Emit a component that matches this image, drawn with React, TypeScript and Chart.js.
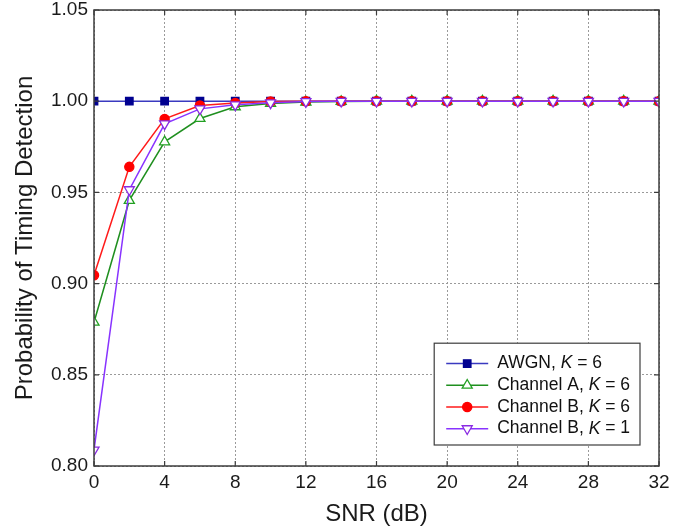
import React, { useEffect, useRef } from 'react';
import { Chart, registerables } from 'chart.js';

Chart.register(...registerables);

// ---- data ----
const snrDb = [0, 2, 4, 6, 8, 10, 12, 14, 16, 18, 20, 22, 24, 26, 28, 30, 32];
const awgnK6 = [1, 1, 1, 1, 1, 1, 1, 1, 1, 1, 1, 1, 1, 1, 1, 1, 1];
const channelAK6 = [0.8788, 0.9456, 0.9777, 0.9905, 0.9969, 0.9987, 0.9995, 0.9998, 1, 1, 1, 1, 1, 1, 1, 1, 1];
const channelBK6 = [0.9046, 0.9640, 0.9903, 0.9976, 0.9990, 0.9998, 1, 1, 1, 1, 1, 1, 1, 1, 1, 1, 1];
const channelBK1 = [0.8088, 0.9515, 0.9876, 0.9958, 0.9980, 0.9991, 0.9998, 1, 1, 1, 1, 1, 1, 1, 1, 1, 1];

const seriesNames = ['AWGN', 'Channel A', 'Channel B', 'Channel B'];
const seriesK = [6, 6, 6, 1];

const xTicks = [0, 4, 8, 12, 16, 20, 24, 28, 32];
const yTicks = [0.8, 0.85, 0.9, 0.95, 1.0, 1.05];

const xTitle = 'SNR (dB)';
const yTitle = 'Probability of Timing Detection';

const FONT = '"Liberation Sans", Arial, Helvetica, sans-serif';

type Marker = { shape: string; radius: number; fill: string; stroke: string; rot: number };

const markers: Marker[] = [
  { shape: 'rect', radius: 5.3, fill: '#000090', stroke: '#000090', rot: 0 },
  { shape: 'triangle', radius: 5.8, fill: '#ffffff', stroke: '#22a022', rot: 0 },
  { shape: 'circle', radius: 4.6, fill: '#ff0000', stroke: '#ff0000', rot: 0 },
  { shape: 'triangle', radius: 5.8, fill: '#ffffff', stroke: '#8a2be2', rot: 180 },
];
const lineColors = ['#3a3ac0', '#1f8f1f', '#ff1a1a', '#8833ff'];
const seriesValues = [awgnK6, channelAK6, channelBK6, channelBK1];

function drawMarker(ctx: CanvasRenderingContext2D, m: Marker, x: number, y: number) {
  ctx.save();
  ctx.fillStyle = m.fill;
  ctx.strokeStyle = m.stroke;
  ctx.lineWidth = 1.3;
  ctx.beginPath();
  const r = m.radius;
  if (m.shape === 'rect') {
    const s = Math.SQRT1_2 * r;
    ctx.rect(x - s, y - s, 2 * s, 2 * s);
  } else if (m.shape === 'circle') {
    ctx.arc(x, y, r, 0, Math.PI * 2);
  } else {
    const rot = (m.rot * Math.PI) / 180;
    for (let i = 0; i < 3; i++) {
      const ang = rot - Math.PI / 2 + (i * 2 * Math.PI) / 3;
      const px = x + Math.cos(ang) * r;
      const py = y + Math.sin(ang) * r;
      if (i === 0) ctx.moveTo(px, py);
      else ctx.lineTo(px, py);
    }
    ctx.closePath();
  }
  ctx.fill();
  ctx.stroke();
  ctx.restore();
}

const framePlugin = {
  id: 'frameAndLegend',
  afterDraw(chart: any) {
    const { ctx, chartArea: a, scales } = chart;
    ctx.save();
    // box
    ctx.strokeStyle = '#3c3c3c';
    ctx.lineWidth = 1.5;
    ctx.setLineDash([]);
    ctx.strokeRect(a.left, a.top, a.right - a.left, a.bottom - a.top);
    // inward ticks
    const tl = 5;
    ctx.lineWidth = 1.2;
    ctx.beginPath();
    scales.x.ticks.forEach((t: any) => {
      const px = scales.x.getPixelForValue(t.value);
      ctx.moveTo(px, a.bottom);
      ctx.lineTo(px, a.bottom - tl);
      ctx.moveTo(px, a.top);
      ctx.lineTo(px, a.top + tl);
    });
    scales.y.ticks.forEach((t: any) => {
      const py = scales.y.getPixelForValue(t.value);
      ctx.moveTo(a.left, py);
      ctx.lineTo(a.left + tl, py);
      ctx.moveTo(a.right, py);
      ctx.lineTo(a.right - tl, py);
    });
    ctx.stroke();

    // legend
    const fs = 17.5;
    const normal = `${fs}px ${FONT}`;
    const italic = `italic ${fs}px ${FONT}`;
    const parts = seriesNames.map((n, i) => [`${n}, `, 'K', ` = ${seriesK[i]}`]);
    const widths = parts.map((p) => {
      ctx.font = normal;
      let w = ctx.measureText(p[0]).width + ctx.measureText(p[2]).width;
      ctx.font = italic;
      w += ctx.measureText(p[1]).width;
      return w;
    });
    const padL = 12, sample = 42, gap = 9, padR = 10, rowH = 21.7, padT = 9.5, padB = 5.5;
    const boxW = padL + sample + gap + Math.max(...widths) + padR;
    const boxH = padT + rowH * parts.length + padB;
    const bx = a.right - 19 - boxW;
    const by = a.bottom - 21 - boxH;
    ctx.fillStyle = '#ffffff';
    ctx.fillRect(bx, by, boxW, boxH);
    ctx.strokeStyle = '#3c3c3c';
    ctx.lineWidth = 1.2;
    ctx.strokeRect(bx, by, boxW, boxH);
    parts.forEach((p, i) => {
      const cy = by + padT + rowH * (i + 0.5);
      const x0 = bx + padL;
      ctx.strokeStyle = lineColors[i];
      ctx.lineWidth = 1.5;
      ctx.beginPath();
      ctx.moveTo(x0, cy);
      ctx.lineTo(x0 + sample, cy);
      ctx.stroke();
      drawMarker(ctx, markers[i], x0 + sample / 2, cy);
      let tx = x0 + sample + gap;
      ctx.fillStyle = '#111111';
      ctx.textBaseline = 'middle';
      ctx.textAlign = 'left';
      ctx.font = normal;
      ctx.fillText(p[0], tx, cy);
      tx += ctx.measureText(p[0]).width;
      ctx.font = italic;
      ctx.fillText(p[1], tx, cy);
      tx += ctx.measureText(p[1]).width;
      ctx.font = normal;
      ctx.fillText(p[2], tx, cy);
    });
    ctx.restore();
  },
};

const bgPlugin = {
  id: 'whiteBg',
  beforeDraw(chart: any) {
    const { ctx, width, height } = chart;
    ctx.save();
    ctx.fillStyle = '#ffffff';
    ctx.fillRect(0, 0, width, height);
    ctx.restore();
  },
};

export default function App() {
  const canvasRef = useRef<HTMLCanvasElement | null>(null);

  useEffect(() => {
    if (!canvasRef.current) return;
    const datasets = seriesValues.map((vals, i) => ({
      label: `${seriesNames[i]}, K = ${seriesK[i]}`,
      data: snrDb.map((x, j) => ({ x, y: vals[j] })),
      borderColor: lineColors[i],
      backgroundColor: markers[i].fill,
      borderWidth: 1.5,
      pointStyle: markers[i].shape,
      pointRadius: markers[i].radius,
      pointRotation: markers[i].rot,
      pointBackgroundColor: markers[i].fill,
      pointBorderColor: markers[i].stroke,
      pointBorderWidth: 1.3,
      tension: 0,
      fill: false,
      clip: 0,
      order: 4 - i,
    }));

    const chart = new Chart(canvasRef.current, {
      type: 'line',
      data: { datasets },
      plugins: [bgPlugin, framePlugin],
      options: {
        animation: false,
        responsive: true,
        maintainAspectRatio: false,
        layout: { padding: { top: 10, right: 29, left: 0, bottom: 0 } },
        plugins: {
          legend: { display: false },
          tooltip: { enabled: false },
        },
        scales: {
          x: {
            type: 'linear',
            min: 0,
            max: 32,
            afterBuildTicks: (axis: any) => {
              axis.ticks = xTicks.map((v) => ({ value: v }));
            },
            afterFit: (axis: any) => {
              axis.height = 65;
              axis.paddingLeft = 0;
              axis.paddingRight = 0;
            },
            ticks: {
              color: '#1a1a1a',
              font: { family: FONT, size: 19 },
              padding: 5,
              maxRotation: 0,
              autoSkip: false,
              callback: (v: any) => String(v),
            },
            grid: { color: '#9a9a9a', lineWidth: 1, drawTicks: false },
            border: { display: false, dash: [2, 2] },
            title: {
              display: true,
              text: xTitle,
              color: '#1a1a1a',
              font: { family: FONT, size: 24 },
              padding: { top: 0, bottom: 2 },
            },
          },
          y: {
            type: 'linear',
            min: 0.8,
            max: 1.05,
            afterBuildTicks: (axis: any) => {
              axis.ticks = yTicks.map((v) => ({ value: v }));
            },
            afterFit: (axis: any) => {
              axis.width = 94;
              axis.paddingTop = 0;
              axis.paddingBottom = 0;
            },
            ticks: {
              color: '#1a1a1a',
              font: { family: FONT, size: 19 },
              padding: 6,
              autoSkip: false,
              callback: (v: any) => Number(v).toFixed(2),
            },
            grid: { color: '#9a9a9a', lineWidth: 1, drawTicks: false },
            border: { display: false, dash: [2, 2] },
            title: {
              display: true,
              text: yTitle,
              color: '#1a1a1a',
              font: { family: FONT, size: 24 },
              padding: { top: 11, bottom: 0 },
            },
          },
        },
      } as any,
    });
    return () => chart.destroy();
  }, []);

  return (
    <div style={{ position: 'fixed', left: 0, top: 0, width: 688, height: 531, background: '#fff' }}>
      <canvas ref={canvasRef} />
    </div>
  );
}
